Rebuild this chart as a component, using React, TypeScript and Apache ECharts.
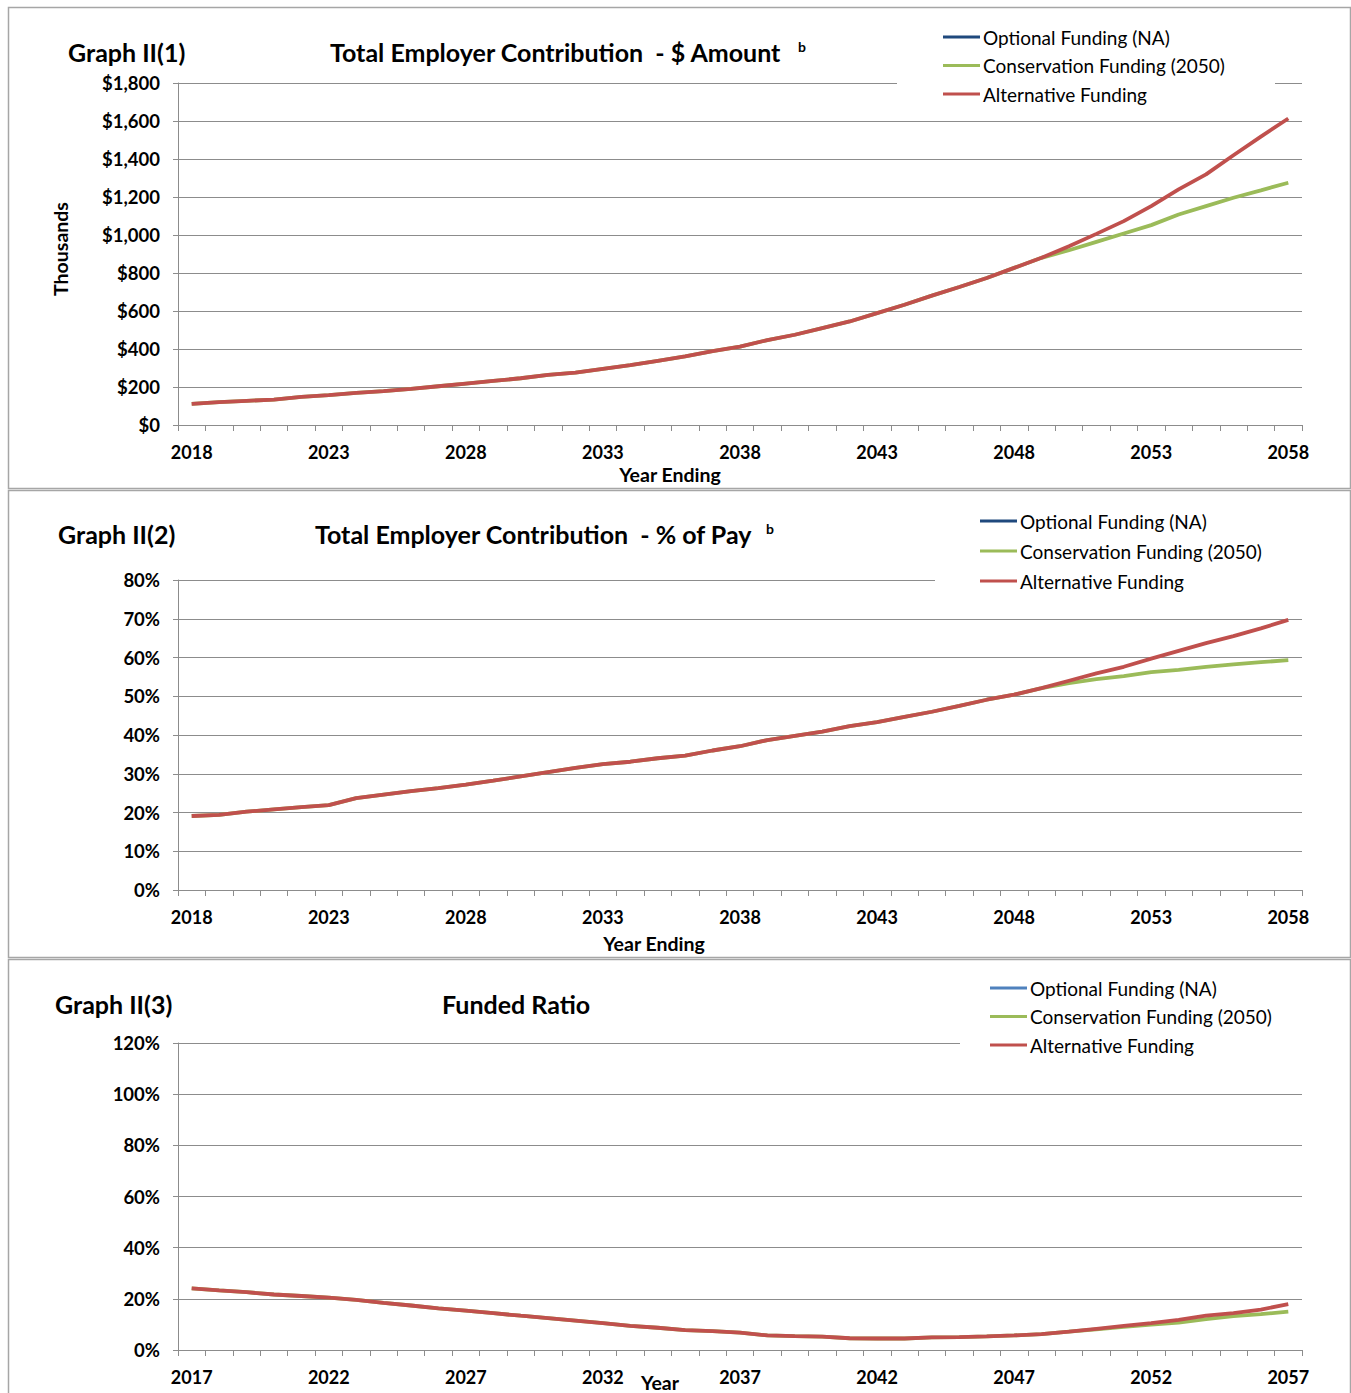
import React, { useEffect, useRef } from "react";
import * as echarts from "echarts";

// Year-ending categories for the contribution graphs and the funded-ratio graph
const yearsContribution = [
  "2018", "2019", "2020", "2021", "2022", "2023", "2024", "2025", "2026", "2027",
  "2028", "2029", "2030", "2031", "2032", "2033", "2034", "2035", "2036", "2037",
  "2038", "2039", "2040", "2041", "2042", "2043", "2044", "2045", "2046", "2047",
  "2048", "2049", "2050", "2051", "2052", "2053", "2054", "2055", "2056", "2057",
  "2058",
];
const yearsFunded = [
  "2017", "2018", "2019", "2020", "2021", "2022", "2023", "2024", "2025", "2026",
  "2027", "2028", "2029", "2030", "2031", "2032", "2033", "2034", "2035", "2036",
  "2037", "2038", "2039", "2040", "2041", "2042", "2043", "2044", "2045", "2046",
  "2047", "2048", "2049", "2050", "2051", "2052", "2053", "2054", "2055", "2056",
  "2057",
];

const seriesNames = ["Optional Funding (NA)", "Conservation Funding (2050)", "Alternative Funding"];

// Graph II(1): total employer contribution, $ thousands
const amountOptional: number[] = [];
const amountConservation = [
  111, 120, 127, 134, 148, 157, 169, 178, 190, 204, 218, 232, 246, 264, 276, 296, 315, 338, 361, 389,
  413, 447, 475, 510, 545, 589, 633, 681, 726, 774, 827, 880, 920, 964, 1008, 1052, 1108, 1152, 1196, 1235,
  1275,
];
const amountAlternative = [
  111, 120, 127, 134, 148, 157, 169, 178, 190, 204, 218, 232, 246, 264, 276, 296, 315, 338, 361, 389,
  413, 447, 475, 510, 545, 589, 633, 681, 726, 774, 827, 880, 941, 1006, 1073, 1152, 1240, 1319, 1420, 1518,
  1613,
];

// Graph II(2): total employer contribution, % of pay
const payOptional: number[] = [];
const payConservation = [
  19.1, 19.4, 20.2, 20.8, 21.4, 21.9, 23.7, 24.6, 25.5, 26.3, 27.2, 28.2, 29.3, 30.4, 31.5, 32.5, 33.1, 34.0, 34.7, 36.0,
  37.1, 38.7, 39.8, 40.9, 42.3, 43.3, 44.7, 46.0, 47.5, 49.1, 50.4, 52.1, 53.4, 54.4, 55.2, 56.2, 56.8, 57.6, 58.2, 58.8,
  59.3,
];
const payAlternative = [
  19.1, 19.4, 20.2, 20.8, 21.4, 21.9, 23.7, 24.6, 25.5, 26.3, 27.2, 28.2, 29.3, 30.4, 31.5, 32.5, 33.1, 34.0, 34.7, 36.0,
  37.1, 38.7, 39.8, 40.9, 42.3, 43.3, 44.7, 46.0, 47.5, 49.1, 50.4, 52.1, 54.0, 55.9, 57.6, 59.7, 61.7, 63.7, 65.5, 67.5,
  69.7,
];

// Graph II(3): funded ratio, %
const fundedOptional: number[] = [];
const fundedConservation = [
  24.1, 23.3, 22.6, 21.7, 21.1, 20.5, 19.6, 18.4, 17.4, 16.3, 15.4, 14.4, 13.4, 12.5, 11.5, 10.5, 9.4, 8.7, 7.8, 7.4,
  6.8, 5.7, 5.4, 5.2, 4.6, 4.5, 4.5, 4.9, 5.0, 5.3, 5.7, 6.2, 7.2, 8.1, 9.0, 9.9, 10.7, 12.1, 13.2, 14.0,
  15.0,
];
const fundedAlternative = [
  24.1, 23.3, 22.6, 21.7, 21.1, 20.5, 19.6, 18.4, 17.4, 16.3, 15.4, 14.4, 13.4, 12.5, 11.5, 10.5, 9.4, 8.7, 7.8, 7.4,
  6.8, 5.7, 5.4, 5.2, 4.6, 4.5, 4.5, 4.9, 5.0, 5.3, 5.7, 6.2, 7.2, 8.3, 9.4, 10.5, 11.8, 13.4, 14.4, 15.8,
  17.9,
];

const FONT = "Lato";
const DARK_BLUE = "#1f497d";
const LIGHT_BLUE = "#4f81bd";
const GREEN = "#9bbb59";
const RED = "#c0504d";
const GRID_GRAY = "#8c8c8c";
const BORDER_GRAY = "#a6a6a6";

const PLOT_LEFT = 178;
const PLOT_WIDTH = 1124;

function xAxisFor(gridIndex: number, data: string[]) {
  return {
    type: "category",
    gridIndex,
    data,
    boundaryGap: true,
    axisLine: { show: true, lineStyle: { color: GRID_GRAY, width: 1 } },
    axisTick: { show: true, interval: 0, length: 6, lineStyle: { color: GRID_GRAY } },
    axisLabel: {
      interval: 4,
      margin: 18,
      color: "#000",
      fontFamily: FONT,
      fontWeight: "bold",
      fontSize: 18,
    },
    splitLine: { show: false },
  };
}

function yAxisFor(gridIndex: number, max: number, interval: number, fmt: (v: number) => string) {
  return {
    type: "value",
    gridIndex,
    min: 0,
    max,
    interval,
    axisLine: { show: true, lineStyle: { color: GRID_GRAY, width: 1 } },
    axisTick: { show: true, length: 5, lineStyle: { color: GRID_GRAY } },
    axisLabel: {
      margin: 18,
      color: "#000",
      fontFamily: FONT,
      fontWeight: "bold",
      fontSize: 18.5,
      formatter: fmt,
    },
    splitLine: { show: true, lineStyle: { color: GRID_GRAY, width: 1 } },
  };
}

function lineSeries(name: string, data: number[], color: string, axisIndex: number) {
  return {
    type: "line",
    name,
    data,
    xAxisIndex: axisIndex,
    yAxisIndex: axisIndex,
    showSymbol: false,
    symbol: "none",
    smooth: false,
    color,
    itemStyle: { color },
    lineStyle: { color, width: 3.8 },
  };
}

function legendFor(left: number, top: number, gap: number, blue: string) {
  const colors = [blue, GREEN, RED];
  return {
    orient: "vertical",
    left,
    top,
    padding: 0,
    itemGap: gap,
    itemWidth: 37,
    itemHeight: 3,
    icon: "rect",
    selectedMode: false,
    z: 10,
    textStyle: { fontFamily: FONT, fontSize: 19, color: "#000", lineHeight: 20, padding: [0, 0, 0, -2] },
    data: seriesNames.map((n, i) => ({ name: n, itemStyle: { color: colors[i] } })),
  };
}

function text(x: number, y: number, str: string, font: string, align = "left", rotation = 0) {
  return {
    type: "text",
    x,
    y,
    rotation,
    z: 20,
    style: {
      text: str,
      font,
      fill: "#000",
      align,
      textAlign: align,
      verticalAlign: "middle",
      textVerticalAlign: "middle",
    },
  };
}

function whiteBar(x: number, y: number, w: number) {
  return {
    type: "rect",
    z: 5,
    shape: { x, y: y - 3, width: w, height: 6 },
    style: { fill: "#fff" },
  };
}

function frame(y: number, h: number) {
  return {
    type: "rect",
    z: 1,
    shape: { x: 8.5, y, width: 1342, height: h },
    style: { fill: "none", stroke: BORDER_GRAY, lineWidth: 1.5 },
  };
}

const titleFont = `bold 25px ${FONT}`;
const axisNameFont = `bold 19.5px ${FONT}`;
const supFont = `bold 14px ${FONT}`;

export default function App() {
  const ref = useRef<HTMLDivElement>(null);

  useEffect(() => {
    if (!ref.current) return;
    const chart = echarts.init(ref.current, undefined, { renderer: "svg" });
    const dollars = (v: number) => "$" + v.toLocaleString("en-US");
    const pct = (v: number) => v + "%";

    chart.setOption({
      animation: false,
      backgroundColor: "#fff",
      textStyle: { fontFamily: FONT },
      grid: [
        { left: PLOT_LEFT, top: 83, width: PLOT_WIDTH, height: 342 },
        { left: PLOT_LEFT, top: 580, width: PLOT_WIDTH, height: 310 },
        { left: PLOT_LEFT, top: 1043, width: PLOT_WIDTH, height: 307 },
      ],
      xAxis: [
        xAxisFor(0, yearsContribution),
        xAxisFor(1, yearsContribution),
        xAxisFor(2, yearsFunded),
      ],
      yAxis: [
        yAxisFor(0, 1800, 200, dollars),
        yAxisFor(1, 80, 10, pct),
        yAxisFor(2, 120, 20, pct),
      ],
      legend: [
        legendFor(943, 27, 8.5, DARK_BLUE),
        legendFor(980, 511, 10, DARK_BLUE),
        legendFor(990, 978, 8.5, LIGHT_BLUE),
      ],
      series: [
        lineSeries(seriesNames[0], amountOptional, DARK_BLUE, 0),
        lineSeries(seriesNames[1], amountConservation, GREEN, 0),
        lineSeries(seriesNames[2], amountAlternative, RED, 0),
        lineSeries(seriesNames[0], payOptional, DARK_BLUE, 1),
        lineSeries(seriesNames[1], payConservation, GREEN, 1),
        lineSeries(seriesNames[2], payAlternative, RED, 1),
        lineSeries(seriesNames[0], fundedOptional, LIGHT_BLUE, 2),
        lineSeries(seriesNames[1], fundedConservation, GREEN, 2),
        lineSeries(seriesNames[2], fundedAlternative, RED, 2),
      ],
      graphic: [
        frame(7.5, 481),
        frame(490.5, 467),
        frame(959.5, 440),
        whiteBar(897, 83, 378),
        whiteBar(935, 580, 370),
        whiteBar(960, 1043, 345),
        text(68, 52, "Graph II(1)", titleFont),
        text(330, 52, "Total Employer Contribution  - $ Amount", titleFont),
        text(798, 46, "b", supFont),
        text(60, 249, "Thousands", axisNameFont, "center", Math.PI / 2),
        text(670, 474, "Year Ending", axisNameFont, "center"),
        text(58, 534, "Graph II(2)", titleFont),
        text(315, 534, "Total Employer Contribution  - % of Pay", titleFont),
        text(766, 528, "b", supFont),
        text(654, 943, "Year Ending", axisNameFont, "center"),
        text(55, 1004, "Graph II(3)", titleFont),
        text(442, 1004, "Funded Ratio", titleFont),
        text(660, 1382, "Year", axisNameFont, "center"),
      ],
    });

    return () => chart.dispose();
  }, []);

  return (
    <div
      ref={ref}
      style={{ position: "absolute", left: 0, top: 0, width: 1351, height: 1393 }}
    />
  );
}
